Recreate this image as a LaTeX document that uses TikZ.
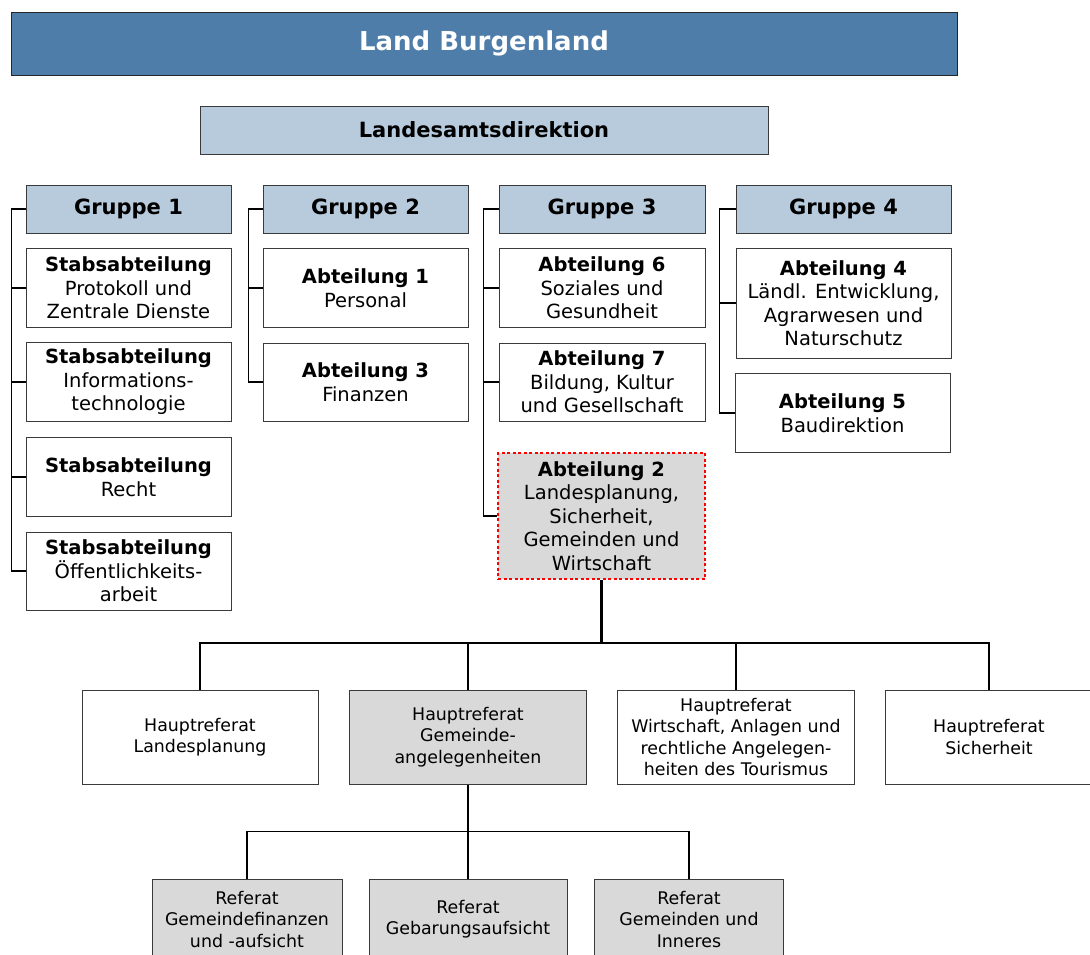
\documentclass[tikz,border=0pt]{standalone}
\usepackage{fontspec}
\setmainfont{DejaVu Sans}
\definecolor{titleblue}{HTML}{4E7DA9}
\definecolor{lightblue}{HTML}{B8CBDD}
\definecolor{boxgray}{HTML}{D9D9D9}
\definecolor{framegray}{HTML}{3A3A3A}
\tikzset{
  box/.style={draw=framegray, line width=1pt, inner sep=0pt, align=center,
    font=\fontsize{19.5}{23.5}\selectfont},
  titlebox/.style={box, draw=black!85, fill=titleblue, text=white,
    font=\fontsize{26}{30}\selectfont\bfseries},
  headbox/.style={box, fill=lightblue, font=\fontsize{21}{25}\selectfont\bfseries},
  deptbox/.style={box, fill=white},
  markbox/.style={box, fill=boxgray, draw=red, dash pattern=on 3pt off 2.5pt, line width=2pt},
  hrbox/.style={box, fill=white, font=\fontsize{17.4}{21.5}\selectfont},
  hrgray/.style={hrbox, fill=boxgray},
  conn/.style={draw=black, line width=1.5pt},
  stem/.style={draw=black, line width=2.2pt},
  bus/.style={draw=black, line width=1.7pt},
}
\begin{document}
\begin{tikzpicture}[x=1pt,y=-1pt]
\useasboundingbox (0,0) rectangle (1090,954);
\clip (0,0) rectangle (1090,954);

% top
\node[titlebox, minimum width=946, minimum height=63] (title) at (484,43.5) {Land Burgenland};
\node[headbox, minimum width=568, minimum height=48] (lad) at (484,130) {Landesamtsdirektion};

% groups
\node[headbox, minimum width=205, minimum height=48] (g1) at (128.5,209) {Gruppe 1};
\node[headbox, minimum width=205, minimum height=48] (g2) at (365.5,209) {Gruppe 2};
\node[headbox, minimum width=206, minimum height=48] (g3) at (602,209) {Gruppe 3};
\node[headbox, minimum width=215, minimum height=48] (g4) at (843.5,209) {Gruppe 4};

% Gruppe 1
\node[deptbox, minimum width=205, minimum height=79] (s1) at (128.5,288) {\textbf{Stabsabteilung}\\Protokoll und\\Zentrale Dienste};
\node[deptbox, minimum width=205, minimum height=79] (s2) at (128.5,382) {\textbf{Stabsabteilung}\\Informations-\\technologie};
\node[deptbox, minimum width=205, minimum height=79] (s3) at (128.5,477) {\textbf{Stabsabteilung}\\Recht};
\node[deptbox, minimum width=205, minimum height=78] (s4) at (128.5,571) {\textbf{Stabsabteilung}\\Öffentlichkeits-\\arbeit};

% Gruppe 2
\node[deptbox, minimum width=205, minimum height=79] (a1) at (365.5,288) {\textbf{Abteilung 1}\\Personal};
\node[deptbox, minimum width=205, minimum height=78] (a3) at (365.5,382) {\textbf{Abteilung 3}\\Finanzen};

% Gruppe 3
\node[deptbox, minimum width=206, minimum height=79] (a6) at (602,288) {\textbf{Abteilung 6}\\Soziales und\\Gesundheit};
\node[deptbox, minimum width=206, minimum height=78] (a7) at (602,382) {\textbf{Abteilung 7}\\Bildung, Kultur\\und Gesellschaft};
\node[markbox, minimum width=207, minimum height=126] (a2) at (601.5,516) {\textbf{Abteilung 2}\\Landesplanung,\\Sicherheit,\\Gemeinden und\\Wirtschaft};

% Gruppe 4
\node[deptbox, minimum width=215, minimum height=110] (a4) at (843.5,303) {\textbf{Abteilung 4}\\Ländl. Entwicklung,\\Agrarwesen und\\Naturschutz};
\node[deptbox, minimum width=215, minimum height=79] (a5) at (842.5,413) {\textbf{Abteilung 5}\\Baudirektion};

% group connectors
\draw[conn] (g1.west) -- ++(-14,0) |- (s4.west);
\foreach \n in {s1,s2,s3} \draw[conn] (\n.west) -- ++(-14,0);
\draw[conn] (g2.west) -- ++(-14,0) |- (a3.west);
\draw[conn] (a1.west) -- ++(-14,0);
\draw[conn] (g3.west) -- ++(-15,0) |- (a2.west);
\foreach \n in {a6,a7} \draw[conn] (\n.west) -- ++(-15,0);
\draw[conn] (g4.west) -- ++(-16,0) |- (a5.west);
\draw[conn] (a4.west) -- ++(-16,0);

% Hauptreferate
\node[hrbox, minimum width=236, minimum height=94] (hr1) at (200,737) {Hauptreferat\\Landesplanung};
\node[hrgray, minimum width=237, minimum height=94] (hr2) at (468,737) {Hauptreferat\\Gemeinde-\\angelegenheiten};
\node[hrbox, minimum width=237, minimum height=94] (hr3) at (736,737) {Hauptreferat\\Wirtschaft, Anlagen und\\rechtliche Angelegen-\\heiten des Tourismus};
\node[hrbox, minimum width=208, minimum height=94] (hr4) at (989,737) {Hauptreferat\\Sicherheit};

\draw[stem] (a2.south) -- ++(0,63) coordinate (busA);
\draw[bus] (hr1.north) |- (busA);
\draw[bus] (hr4.north) |- (busA);
\draw[bus] (hr2.north) -- (hr2.north |- busA);
\draw[bus] (hr3.north) -- (hr3.north |- busA);

% Referate
\node[hrgray, minimum width=190, minimum height=80] (r1) at (247,919) {Referat\\Gemeindefinanzen\\und -aufsicht};
\node[hrgray, minimum width=198, minimum height=80] (r2) at (468,919) {Referat\\Gebarungsaufsicht};
\node[hrgray, minimum width=189, minimum height=80] (r3) at (689,919) {Referat\\Gemeinden und\\Inneres};

\draw[bus] (hr2.south) -- ++(0,47) coordinate (busB);
\draw[bus] (r1.north) |- (busB);
\draw[bus] (r3.north) |- (busB);
\draw[bus] (r2.north) -- (busB);
\end{tikzpicture}
\end{document}
